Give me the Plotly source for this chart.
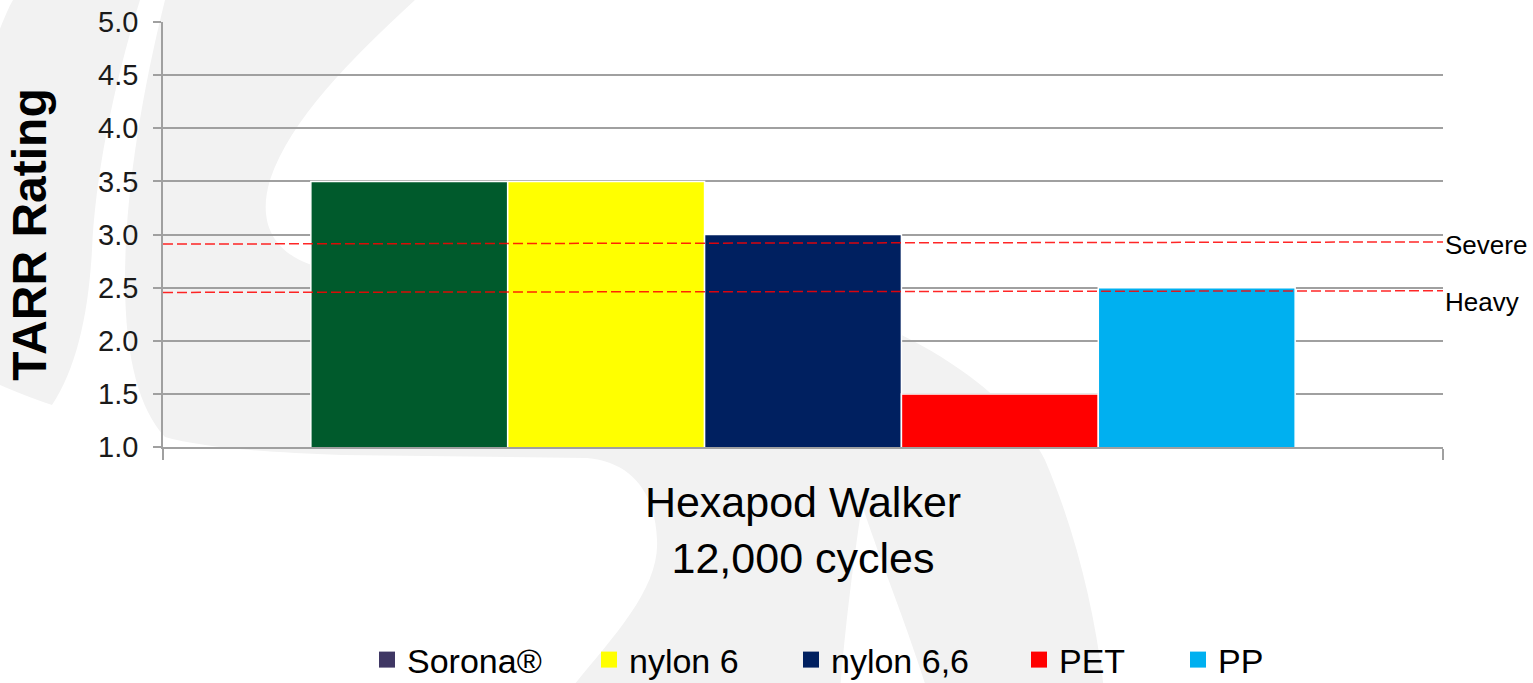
import plotly.graph_objects as go

# ---------------- data ----------------
category = ["Hexapod Walker<br>12,000 cycles"]
materials = ["Sorona®", "nylon 6", "nylon 6,6", "PET", "PP"]
tarr_values = [3.5, 3.5, 3.0, 1.5, 2.5]
bar_colors = ["#005A2C", "#FFFF00", "#002060", "#FF0000", "#00B0F0"]
legend_colors = ["#3F3764", "#FFFF00", "#002060", "#FF0000", "#00B0F0"]
y_tick_values = [1.0, 1.5, 2.0, 2.5, 3.0, 3.5, 4.0, 4.5, 5.0]
threshold_labels = ["Severe", "Heavy"]
threshold_left = [2.91, 2.455]
threshold_right = [2.93, 2.47]

# ---------------- layout geometry ----------------
W, H = 1533, 683
L, R, T, B = 163, 90, 22, 236
PW, PH = W - L - R, H - T - B
FONT = "Arial, Liberation Sans, sans-serif"


def to_paper(px, py):
    return (px - L) / PW, (H - B - py) / PH


def build_path(cmds):
    out = []
    for c, pts in cmds:
        if c == "Z":
            out.append("Z")
            continue
        coords = " ".join("%.5f,%.5f" % to_paper(x, y) for x, y in pts)
        out.append(c + " " + coords)
    return " ".join(out)


swoosh_outer = build_path([
    ("M", [(13, 0)]), ("L", [(140, 0)]),
    ("C", [(112, 90), (95, 180), (92, 250)]),
    ("C", [(88, 320), (75, 370), (52, 405)]),
    ("C", [(30, 398), (12, 390), (-5, 383)]),
    ("L", [(-5, 40)]),
    ("C", [(2, 25), (7, 10), (13, 0)]), ("Z", []),
])
swoosh_inner = build_path([
    ("M", [(165, 0)]), ("L", [(415, 0)]),
    ("C", [(350, 60), (290, 120), (270, 180)]),
    ("C", [(255, 230), (280, 260), (330, 270)]),
    ("C", [(500, 290), (780, 300), (880, 325)]),
    ("C", [(960, 360), (1020, 410), (1045, 460)]),
    ("C", [(1075, 530), (1095, 610), (1104, 690)]),
    ("L", [(927, 690)]),
    ("C", [(905, 620), (880, 560), (862, 505)]),
    ("C", [(852, 570), (845, 630), (840, 690)]),
    ("L", [(570, 690)]),
    ("C", [(610, 640), (660, 590), (657, 540)]),
    ("C", [(655, 490), (630, 462), (587, 458)]),
    ("L", [(342, 455)]),
    ("C", [(260, 452), (200, 447), (165, 437)]),
    ("C", [(140, 410), (125, 360), (125, 280)]),
    ("C", [(125, 200), (140, 100), (165, 0)]), ("Z", []),
])

fig = go.Figure()

for name, val, col in zip(materials, tarr_values, bar_colors):
    fig.add_trace(go.Bar(
        x=category, y=[val], name=name, showlegend=False,
        marker=dict(color=col, line=dict(color="#FFFFFF", width=1.5)),
        hoverinfo="name+y",
    ))

legend_ids = ["legend", "legend2", "legend3", "legend4", "legend5"]
for name, col, lid in zip(materials, legend_colors, legend_ids):
    fig.add_trace(go.Scatter(
        x=[None], y=[None], mode="markers", name=name, legend=lid,
        marker=dict(symbol="square", size=17, color=col),
    ))

shapes = [
    dict(type="path", path=swoosh_outer, xref="paper", yref="paper",
         fillcolor="#F2F2F2", line=dict(width=0), layer="below"),
    dict(type="path", path=swoosh_inner, xref="paper", yref="paper",
         fillcolor="#F2F2F2", line=dict(width=0), layer="below"),
]
for y0, y1 in zip(threshold_left, threshold_right):
    shapes.append(dict(type="line", xref="paper", yref="y", x0=0, x1=1, y0=y0, y1=y1,
                       line=dict(color="rgba(255,0,0,0.85)", width=1.5, dash="10px,4px"),
                       layer="above"))

annotations = []
label_shift = [-3, -11]
for lab, y1, sh in zip(threshold_labels, threshold_right, label_shift):
    annotations.append(dict(text=lab, xref="paper", yref="y", x=1, y=y1, yshift=sh,
                            xanchor="left", yanchor="middle", showarrow=False,
                            font=dict(family=FONT, size=26, color="#000000")))

legend_anchor_px = [367, 589, 791, 1019, 1178]
legend_layouts = {}
for lid, px in zip(legend_ids, legend_anchor_px):
    lx, ly = to_paper(px, 660)
    legend_layouts[lid] = dict(
        orientation="h", x=lx, y=ly, xanchor="left", yanchor="middle",
        xref="paper", yref="paper", bgcolor="rgba(0,0,0,0)",
        font=dict(family=FONT, size=34, color="#000000"),
        itemclick=False, itemdoubleclick=False,
    )

fig.update_layout(
    width=W, height=H,
    margin=dict(l=L, r=R, t=T, b=B, autoexpand=False),
    paper_bgcolor="#FFFFFF", plot_bgcolor="rgba(0,0,0,0)",
    barmode="group", bargap=0.231, bargroupgap=0,
    font=dict(family=FONT, color="#000000"),
    shapes=shapes, annotations=annotations,
    **legend_layouts,
    xaxis=dict(
        type="category", showgrid=False, showline=True, linecolor="#A0A0A0", linewidth=1.5,
        ticks="outside", tickson="boundaries", ticklen=11, tickcolor="#A0A0A0", tickwidth=1.5,
        tickfont=dict(family=FONT, size=43, color="#000000"), automargin=False,
        ticklabelstandoff=17,
    ),
    yaxis=dict(
        range=[1, 5], tickvals=y_tick_values, tickformat=".1f",
        showgrid=True, gridcolor="#A0A0A0", gridwidth=1.5, zeroline=False,
        showline=True, linecolor="#A0A0A0", linewidth=1.5,
        ticks="outside", ticklen=8, tickcolor="#A0A0A0", tickwidth=1.5,
        tickfont=dict(family=FONT, size=29, color="#1A1A1A"), ticklabelstandoff=9,
        title=dict(text="<b>TARR Rating</b>", font=dict(family=FONT, size=48, color="#000000"),
                   standoff=36),
        automargin=False,
    ),
)

fig.write_html("out.html", config={"displayModeBar": False},
               post_script="document.body.style.margin='0';document.body.style.overflow='hidden';")
